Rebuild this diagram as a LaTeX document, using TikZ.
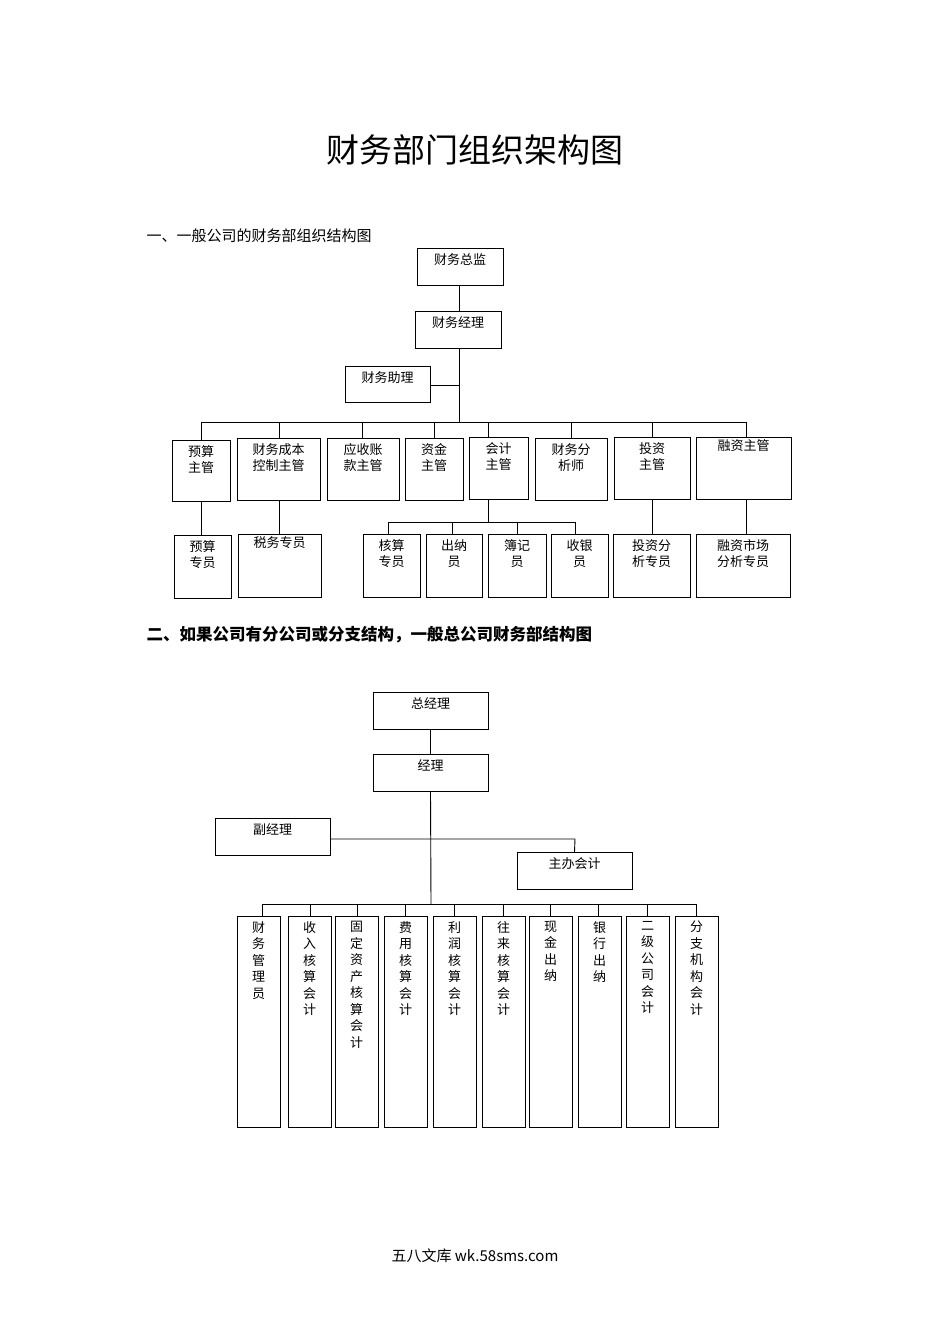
\documentclass[tikz,border=0pt]{standalone}
\usepackage{fontspec}
\newfontfamily\cjk{Noto Sans CJK SC}
\newcommand\obox[6]{\node[box,minimum width={(#4-#2)*1pt},minimum height={(#5-#3)*1pt},anchor=north west,label={[lab]north:{#6}}] (#1) at (#2,#3) {};}
\begin{document}
\begin{tikzpicture}[x=1pt,y=-1pt,
  every node/.style={font=\cjk\fontsize{13}{16.5}\selectfont},
  box/.style={draw,line width=0.9pt,inner sep=0pt,outer sep=0pt},
  lab/.style={anchor=north,yshift=-5pt,align=center,inner sep=0pt},
  ln/.style={line width=0.9pt}]
\useasboundingbox[fill=white] (0,0) rectangle (950,1344);
\node[font=\cjk\fontsize{33}{36}\selectfont] (title) at (475,150) {财务部门组织架构图};
\node[anchor=west,font=\cjk\fontsize{15}{18}\selectfont] (s1) at (143,236) {一、一般公司的财务部组织结构图};
\node[anchor=west,font=\cjk\bfseries\fontsize{16.5}{20}\selectfont] (s2) at (143,635) {二、如果公司有分公司或分支结构，一般总公司财务部结构图};
\node[font=\cjk\fontsize{15}{18}\selectfont] (foot) at (475,1256) {五八文库 wk.58sms.com};
% top chart
\obox{zj}{417}{248}{503}{285}{财务总监}
\obox{jl}{415}{311}{501}{348}{财务经理}
\obox{zl}{345}{366}{430}{402}{财务助理}
\coordinate (j1) at (459,385);
\coordinate (bus1) at (459,422);
\draw[ln] (zj.south -| 459,0) -- (jl.north -| 459,0);
\draw[ln] (jl.south -| 459,0) -- (bus1);
\draw[ln] (zl.east |- j1) -- (j1);
\obox{a1}{172}{440}{230}{501}{预算\\主管}
\obox{a2}{237}{438}{320}{500}{财务成本\\控制主管}
\obox{a3}{327}{438}{399}{500}{应收账\\款主管}
\obox{a4}{405}{438}{463}{500}{资金\\主管}
\obox{a5}{469}{437}{528}{499}{会计\\主管}
\obox{a6}{535}{438}{607}{500}{财务分\\析师}
\obox{a7}{614}{437}{690}{499}{投资\\主管}
\obox{a8}{696}{437}{791}{499}{\\[-8pt]融资主管}
\draw[ln] (201,422) -- (746,422);
\foreach \n/\x in {a1/201,a2/279,a3/362,a4/434,a5/488,a6/571,a7/652,a8/746}
  \draw[ln] (\x,422) -- (\n.north -| \x,0);
\obox{b1}{174}{535}{231}{598}{预算\\专员}
\obox{b2}{238}{534}{321}{597}{\\[-8pt]税务专员}
\obox{b3}{363}{534}{420}{597}{核算\\专员}
\obox{b4}{426}{534}{482}{597}{出纳\\员}
\obox{b5}{488}{534}{546}{597}{簿记\\员}
\obox{b6}{551}{534}{608}{597}{收银\\员}
\obox{b7}{613}{534}{690}{597}{投资分\\析专员}
\obox{b8}{696}{534}{790}{597}{融资市场\\分析专员}
\draw[ln] (a1.south -| 201,0) -- (b1.north -| 201,0);
\draw[ln] (a2.south -| 279,0) -- (b2.north -| 279,0);
\draw[ln] (a7.south -| 652,0) -- (b7.north -| 652,0);
\draw[ln] (a8.south -| 746,0) -- (b8.north -| 746,0);
\coordinate (kb) at (488,522);
\draw[ln] (a5.south -| 488,0) -- (kb);
\draw[ln] (388,522) -- (575,522);
\foreach \n/\x in {b3/388,b4/452,b5/517,b6/575}
  \draw[ln] (\x,522) -- (\n.north -| \x,0);
% bottom chart
\obox{zg}{373}{692}{488}{729}{总经理}
\obox{jm}{373}{754}{488}{791}{经理}
\obox{fj}{215}{818}{330}{855}{副经理}
\obox{zb}{517}{852}{632}{889}{主办会计}
\coordinate (bus2) at (431,904);
\coordinate (fk) at (575,839);
\draw[ln] (zg.south) -- (jm.north);
\draw[ln] (jm.south) -- (bus2);
\draw[ln] (fj.east |- fk) -- (fk) -- (zb.north);
\draw[ln] (262,904) -- (697,904);
\foreach \n/\xa/\xb/\d/\t in {
 c1/237/280/262/{财\\务\\管\\理\\员},
 c2/288/331/310/{收\\入\\核\\算\\会\\计},
 c3/335/378/357/{固\\定\\资\\产\\核\\算\\会\\计},
 c4/384/427/405/{费\\用\\核\\算\\会\\计},
 c5/433/476/454/{利\\润\\核\\算\\会\\计},
 c6/482/525/503/{往\\来\\核\\算\\会\\计},
 c7/529/572/550/{现\\金\\出\\纳},
 c8/578/621/598/{银\\行\\出\\纳},
 c9/626/669/647/{二\\级\\公\\司\\会\\计},
 c10/675/718/696/{分\\支\\机\\构\\会\\计}} {
  \obox{\n}{\xa}{916}{\xb}{1127}{\t}
  \draw[ln] (\d,904) -- (\n.north -| \d,0);
}
\end{tikzpicture}
\end{document}
